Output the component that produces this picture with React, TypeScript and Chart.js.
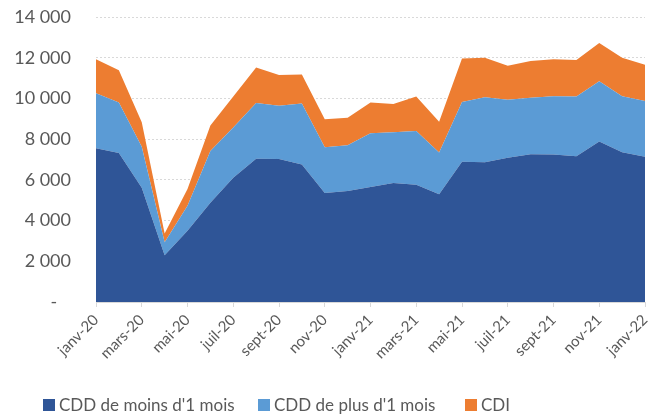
import React, { useEffect, useRef } from "react";
import { Chart, registerables } from "chart.js";

Chart.register(...registerables);

const months = [
  "janv-20", "févr-20", "mars-20", "avr-20", "mai-20", "juin-20", "juil-20", "août-20",
  "sept-20", "oct-20", "nov-20", "déc-20", "janv-21", "févr-21", "mars-21", "avr-21",
  "mai-21", "juin-21", "juil-21", "août-21", "sept-21", "oct-21", "nov-21", "déc-21", "janv-22",
];

const cddMoins = [7550, 7320, 5610, 2300, 3500, 4880, 6100, 7040, 7030, 6750, 5360, 5450, 5650, 5840, 5760, 5290, 6890, 6860, 7080, 7260, 7240, 7160, 7880, 7360, 7140];
const cddPlus = [2710, 2480, 2020, 630, 1230, 2540, 2470, 2730, 2610, 3000, 2240, 2250, 2640, 2500, 2640, 2050, 2930, 3200, 2850, 2770, 2870, 2930, 2970, 2750, 2730];
const cdi = [1670, 1580, 1200, 440, 820, 1250, 1530, 1750, 1510, 1430, 1380, 1350, 1510, 1390, 1690, 1510, 2140, 1940, 1680, 1810, 1810, 1800, 1870, 1890, 1780];

const seriesNames = ["CDD de moins d'1 mois", "CDD de plus d'1 mois", "CDI"];
const colors = ["#2F5597", "#5B9BD5", "#ED7D31"];

const FONT = "Lato, 'Open Sans', sans-serif";
const TEXT = "#595959";

function fmt(v: number): string {
  if (v === 0) return "-   ";
  const s = String(Math.round(v));
  return s.replace(/\B(?=(\d{3})+(?!\d))/g, " ");
}

export default function App() {
  const ref = useRef<HTMLCanvasElement | null>(null);

  useEffect(() => {
    if (!ref.current) return;
    const data = [cddMoins, cddPlus, cdi];
    const chart = new Chart(ref.current, {
      type: "line",
      data: {
        labels: months,
        datasets: data.map((d, i) => ({
          label: seriesNames[i],
          data: d,
          backgroundColor: colors[i],
          borderColor: colors[i],
          borderWidth: 0,
          pointRadius: 0,
          tension: 0,
          fill: i === 0 ? "origin" : "-1",
        })),
      },
      options: {
        animation: false,
        responsive: false,
        maintainAspectRatio: false,
        layout: { padding: { left: 0, right: 18, top: 17, bottom: 0 } },
        plugins: { legend: { display: false }, tooltip: { enabled: false } },
        scales: {
          x: {
            offset: false,
            grid: {
              display: true,
              drawOnChartArea: false,
              drawTicks: true,
              tickLength: 5,
              color: "#D9D9D9",
            },
            border: { display: true, color: "#D9D9D9" },
            ticks: {
              autoSkip: false,
              maxRotation: 45,
              minRotation: 45,
              color: TEXT,
              font: { family: FONT, size: 15 },
              padding: 4,
              callback: (_v: any, i: number) => (i % 2 === 0 ? months[i] : null),
            },
            afterFit: (scale: any) => {
              scale.height = 114;
              scale.paddingLeft = 0;
              scale.paddingRight = 0;
            },
          },
          y: {
            stacked: true,
            min: 0,
            max: 14000,
            grid: {
              color: "#D9D9D9",
              drawTicks: false,
              lineWidth: 1,
            },
            border: { display: false, dash: [2, 2] },
            ticks: {
              stepSize: 2000,
              color: TEXT,
              padding: 25,
              font: { family: FONT, size: 18 },
              callback: (v: any) => fmt(Number(v)),
            },
            afterFit: (scale: any) => {
              scale.width = 96;
              scale.paddingTop = 0;
              scale.paddingBottom = 0;
            },
          },
        },
      },
    });
    return () => chart.destroy();
  }, []);

  const legendLefts = [43, 258, 465];

  return (
    <div style={{ position: "fixed", left: 0, top: 0, width: 663, height: 416, background: "#fff" }}>
      <canvas ref={ref} width={663} height={416} style={{ display: "block" }} />
      {seriesNames.map((n, i) => (
        <div
          key={n}
          style={{
            position: "absolute",
            left: legendLefts[i],
            top: 394,
            display: "flex",
            alignItems: "center",
            fontFamily: FONT,
            fontSize: 17,
            color: TEXT,
            whiteSpace: "nowrap",
            lineHeight: "22px",
          }}
        >
          <span style={{ display: "inline-block", width: 12, height: 12, background: colors[i], marginRight: 4 }} />
          {n}
        </div>
      ))}
    </div>
  );
}
